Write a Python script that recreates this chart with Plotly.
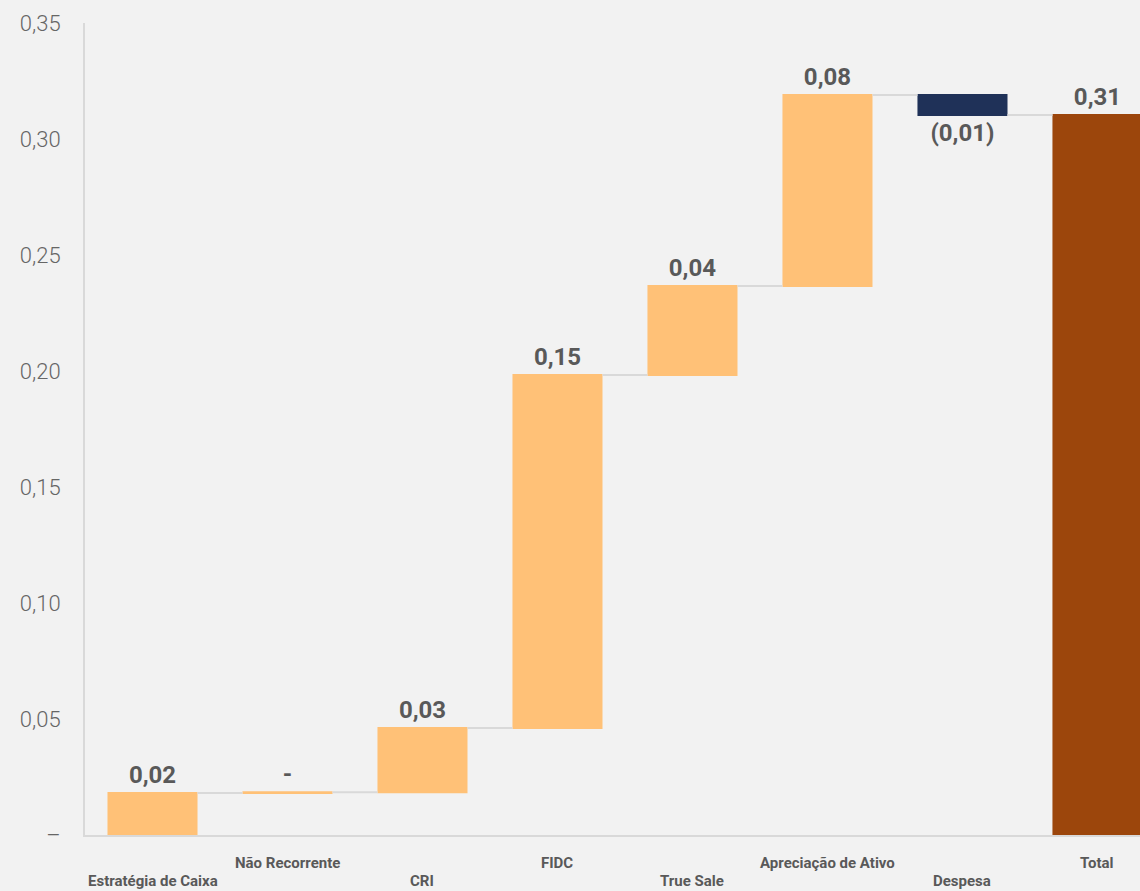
import plotly.graph_objects as go

categories = ["Estratégia de Caixa", "Não Recorrente", "CRI", "FIDC", "True Sale",
              "Apreciação de Ativo", "Despesa", "Total"]
values = [0.0181, 0.0003, 0.0277, 0.1522, 0.0383, 0.0824, -0.0087, 0.3103]
measures = ["relative"] * 7 + ["total"]
value_labels = ["0,02", "-", "0,03", "0,15", "0,04", "0,08", "(0,01)", "0,31"]
y_tickvals = [0, 0.05, 0.10, 0.15, 0.20, 0.25, 0.30, 0.35]
y_ticktext = ["–", "0,05", "0,10", "0,15", "0,20", "0,25", "0,30", "0,35"]

fig = go.Figure()
fig.add_trace(go.Waterfall(
    x=categories, y=values, measure=measures,
    text=value_labels, textposition="outside",
    textfont=dict(family="Roboto", size=24, color="#595959", weight="bold"),
    increasing=dict(marker=dict(color="#FFC177")),
    decreasing=dict(marker=dict(color="#1F3158")),
    totals=dict(marker=dict(color="#9C460C")),
    connector=dict(line=dict(color="#D9D9D9", width=2)),
    width=0.667, cliponaxis=False, hoverinfo="skip",
))

for i, c in enumerate(categories):
    fig.add_annotation(x=c, xref="x", y=0, yref="paper", text=c, showarrow=False,
                       yanchor="top", yshift=-18 if i % 2 == 1 else -36, borderpad=0,
                       font=dict(family="Roboto", size=15, color="#595959", weight="bold"))

fig.update_layout(
    width=1140, height=891,
    margin=dict(l=85, r=0, t=23, b=56),
    paper_bgcolor="#F2F2F2", plot_bgcolor="#F2F2F2",
    showlegend=False,
    xaxis=dict(range=[-0.5, 7.315], showticklabels=False, showgrid=False,
               showline=True, linecolor="#D9D9D9", linewidth=2, zeroline=False),
    yaxis=dict(range=[0, 0.35], tickvals=y_tickvals, ticktext=y_ticktext,
               showgrid=False, zeroline=False, showline=True, linecolor="#D9D9D9",
               linewidth=2, ticks="", ticklabelstandoff=18,
               tickfont=dict(family="Roboto", size=22, color="#666666", weight=300)),
)

fig.write_html("out.html", config={"displayModeBar": False, "staticPlot": True},
               post_script="document.body.style.margin='0';document.body.style.overflow='hidden';"
                           "document.body.style.background='#F2F2F2';")
